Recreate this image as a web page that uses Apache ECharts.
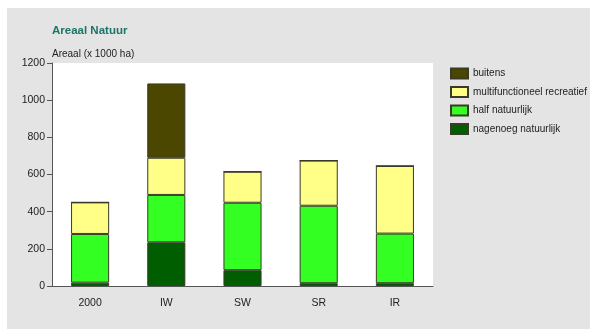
<!DOCTYPE html>
<html>
<head>
<meta charset="utf-8">
<script src="https://cdn.jsdelivr.net/npm/echarts@6/dist/echarts.min.js"></script>
<style>
  html, body { margin: 0; padding: 0; background: #fff; }
  #chart { width: 590px; height: 329px; }
</style>
</head>
<body>
<div id="chart"></div>
<script>
// categories and values (x 1000 ha)
const categories = ['2000', 'IW', 'SW', 'SR', 'IR'];
const nagenoeg = [18, 235, 85, 15, 15];
const half = [262, 255, 363, 417, 267];
const multi = [170, 200, 167, 243, 364];
const buitens = [0, 400, 0, 0, 0];
const yTicks = [0, 200, 400, 600, 800, 1000, 1200];

const FONT = '"Liberation Sans", Arial, sans-serif';

const chart = echarts.init(document.getElementById('chart'));

const barStyle = (color) => ({
    color: color,
    borderColor: '#3a3a2a',
    borderWidth: 1,
});

const option = {
    backgroundColor: '#fff',
    animation: false,
    textStyle: { fontFamily: FONT },
    graphic: [
        {
            type: 'rect',
            shape: { x: 7, y: 8, width: 583, height: 321 },
            style: { fill: '#e4e4e4' },
            z: -10,
        },
        {
            type: 'text',
            left: 52,
            top: 25,
            style: {
                text: 'Areaal Natuur',
                fill: '#1b7566',
                font: 'bold 11.5px ' + FONT,
            },
        },
        {
            type: 'text',
            left: 52,
            top: 49,
            style: {
                text: 'Areaal (x 1000 ha)',
                fill: '#222',
                font: '10px ' + FONT,
            },
        },
    ],
    grid: {
        left: 52,
        top: 63,
        width: 381,
        height: 223,
        show: true,
        backgroundColor: '#fff',
        borderWidth: 0,
    },
    legend: {
        orient: 'vertical',
        left: 445,
        top: 61.5,
        itemWidth: 17,
        itemHeight: 10,
        itemGap: 4.5,
        icon: 'rect',
        data: ['buitens', 'multifunctioneel recreatief', 'half natuurlijk', 'nagenoeg natuurlijk'],
        textStyle: { fontSize: 10, lineHeight: 14, color: '#222', fontFamily: FONT },
    },
    xAxis: {
        type: 'category',
        data: categories,
        axisLine: { show: true, lineStyle: { color: '#555', width: 1 } },
        axisTick: { show: false },
        axisLabel: { fontSize: 10.5, color: '#222', margin: 12 },
    },
    yAxis: {
        type: 'value',
        min: yTicks[0],
        max: yTicks[yTicks.length - 1],
        interval: 200,
        splitLine: { show: false },
        axisLine: { show: true, lineStyle: { color: '#555', width: 1 } },
        axisTick: { show: true, length: 5, lineStyle: { color: '#555' } },
        axisLabel: { fontSize: 10.5, color: '#222', margin: 7, formatter: (v) => String(v) },
    },
    series: [
        { name: 'nagenoeg natuurlijk', type: 'bar', stack: 'a', data: nagenoeg, barWidth: '50%', itemStyle: barStyle('#005e00') },
        { name: 'half natuurlijk', type: 'bar', stack: 'a', data: half, itemStyle: barStyle('#33ff22') },
        { name: 'multifunctioneel recreatief', type: 'bar', stack: 'a', data: multi, itemStyle: barStyle('#ffff88') },
        { name: 'buitens', type: 'bar', stack: 'a', data: buitens, itemStyle: barStyle('#4b4700') },
    ],
};

chart.setOption(option);
</script>
</body>
</html>
